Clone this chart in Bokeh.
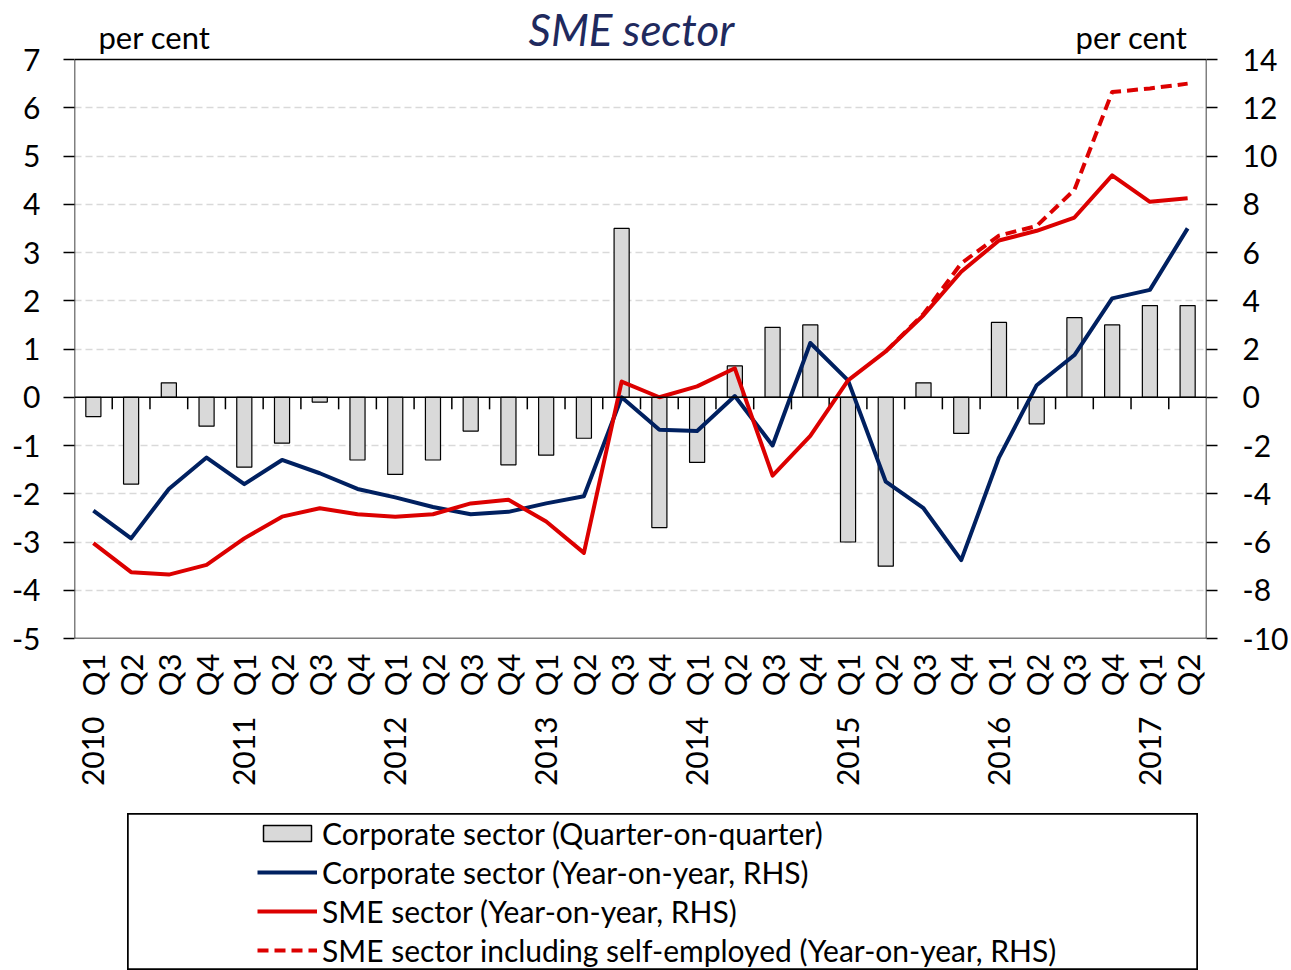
import math
from bokeh.plotting import figure
from bokeh.models import (Range1d, LinearAxis, FixedTicker, Span, Label, Legend,
                          LegendItem, Spacer, BoxAnnotation)
from bokeh.layouts import column, row
from bokeh.embed import file_html
from bokeh.resources import INLINE

# ---------------- data ----------------
periods = ["2010 Q1", "2010 Q2", "2010 Q3", "2010 Q4",
           "2011 Q1", "2011 Q2", "2011 Q3", "2011 Q4",
           "2012 Q1", "2012 Q2", "2012 Q3", "2012 Q4",
           "2013 Q1", "2013 Q2", "2013 Q3", "2013 Q4",
           "2014 Q1", "2014 Q2", "2014 Q3", "2014 Q4",
           "2015 Q1", "2015 Q2", "2015 Q3", "2015 Q4",
           "2016 Q1", "2016 Q2", "2016 Q3", "2016 Q4",
           "2017 Q1", "2017 Q2"]

# Corporate sector, quarter-on-quarter (left axis)
corp_qoq = [-0.4, -1.8, 0.3, -0.6, -1.45, -0.95, -0.1, -1.3, -1.6, -1.3,
            -0.7, -1.4, -1.2, -0.85, 3.5, -2.7, -1.35, 0.65, 1.45, 1.5,
            -3.0, -3.5, 0.3, -0.75, 1.55, -0.55, 1.65, 1.5, 1.9, 1.9]

# Corporate sector, year-on-year (right axis)
corp_yoy = [-4.7, -5.85, -3.8, -2.5, -3.6, -2.6, -3.15, -3.8, -4.15, -4.55,
            -4.85, -4.75, -4.4, -4.1, 0.0, -1.35, -1.4, 0.05, -2.0, 2.25,
            0.7, -3.5, -4.6, -6.75, -2.5, 0.5, 1.75, 4.1, 4.45, 7.0]

# SME sector, year-on-year (right axis)
sme_yoy = [-6.05, -7.25, -7.35, -6.95, -5.85, -4.95, -4.6, -4.85, -4.95, -4.85,
           -4.4, -4.25, -5.15, -6.45, 0.65, 0.0, 0.45, 1.2, -3.25, -1.6,
           0.7, 1.9, 3.4, 5.2, 6.5, 6.9, 7.45, 9.2, 8.1, 8.25]

# SME sector including self-employed, year-on-year (right axis)
nan = float("nan")
sme_self_yoy = [nan, nan, nan, nan, nan, nan, nan, nan, nan, nan,
                nan, nan, nan, nan, nan, nan, nan, nan, nan, nan,
                nan, 1.9, 3.45, 5.55, 6.7, 7.1, 8.6, 12.65, 12.8, 13.0]

left_ticks = [-5, -4, -3, -2, -1, 0, 1, 2, 3, 4, 5, 6, 7]
right_ticks = [-10, -8, -6, -4, -2, 0, 2, 4, 6, 8, 10, 12, 14]

# ---------------- styling ----------------
FONT = "Lato"
NAVY = "#002060"
RED = "#dc0000"
BAR = "#d9d9d9"
TITLE_C = "#1f2a5e"
LW = 4

idx = list(range(len(periods)))
quarter_labels = {i: s.split(" ")[1] for i, s in enumerate(periods)}
year_idx = [i for i, s in enumerate(periods) if s.endswith("Q1")]
year_labels = {i: periods[i].split(" ")[0] for i in year_idx}
bounds = [i + 0.5 for i in idx[:-1]]

W = 1291
H = 813
TOP_PX = 59          # space above the plot box for title texts
BOX_PX = 579         # plot box height in pixels
BOTTOM_PX = H - TOP_PX - BOX_PX

l_lo, l_hi = left_ticks[0], left_ticks[-1]
r_lo, r_hi = right_ticks[0], right_ticks[-1]
px_per_unit = BOX_PX / (l_hi - l_lo)
extra = TOP_PX / px_per_unit                     # left-axis units above the box
r_extra = extra * (r_hi - r_lo) / (l_hi - l_lo)  # same on the right axis

xr = Range1d(-0.5, len(periods) - 0.5)

p = figure(width=W, height=H, x_range=xr,
           y_range=Range1d(l_lo, l_hi + extra),
           toolbar_location=None, output_backend="svg", title=None,
           x_axis_location=None, y_axis_location="left",
           min_border_left=74, min_border_right=85,
           min_border_top=0, min_border_bottom=BOTTOM_PX)
p.extra_y_ranges = {"rhs": Range1d(r_lo, r_hi + r_extra)}
p.outline_line_color = None
p.background_fill_color = "white"
p.border_fill_color = "white"

p.xgrid.visible = False
p.ygrid.ticker = FixedTicker(ticks=[t for t in left_ticks if t not in (0, l_hi)])
p.ygrid.grid_line_color = "#d9d9d9"
p.ygrid.grid_line_dash = "7 4"
p.ygrid.grid_line_width = 1.3

def style_y(ax, ticks, standoff):
    ax.ticker = FixedTicker(ticks=ticks)
    ax.major_label_overrides = {t: str(t) for t in ticks}
    ax.major_label_text_font = FONT
    ax.major_label_text_font_size = "30px"
    ax.major_label_text_color = "black"
    ax.major_tick_out = 11
    ax.major_tick_in = 0
    ax.major_tick_line_color = "black"
    ax.major_tick_line_width = 1.5
    ax.minor_tick_line_color = None
    ax.axis_line_color = None
    ax.major_label_standoff = standoff

style_y(p.yaxis[0], left_ticks, 23)
ry = LinearAxis(y_range_name="rhs")
style_y(ry, right_ticks, 25)
p.add_layout(ry, "right")

def style_x(ax, standoff, size):
    ax.major_label_text_font = FONT
    ax.major_label_text_font_size = size
    ax.major_label_text_color = "black"
    ax.major_label_orientation = math.pi / 2
    ax.major_tick_line_color = None
    ax.minor_tick_line_color = None
    ax.axis_line_color = None
    ax.major_label_standoff = standoff

qa = LinearAxis(ticker=FixedTicker(ticks=idx), major_label_overrides=quarter_labels)
style_x(qa, 9, "31px")
p.add_layout(qa, "below")

ya = LinearAxis(ticker=FixedTicker(ticks=year_idx), major_label_overrides=year_labels)
style_x(ya, 11, "30px")
p.add_layout(ya, "below")

# bars
p.vbar(x=idx, top=corp_qoq, width=0.4, fill_color=BAR, line_color="black", line_width=1.2)

# horizontal axis line at zero with category-boundary ticks
p.add_layout(Span(location=0, dimension="width", line_color="black", line_width=1.5))
p.segment(x0=bounds, y0=[0] * len(bounds), x1=bounds, y1=[-0.25] * len(bounds),
          line_color="black", line_width=1.5)

# lines (right axis)
p.line(idx, corp_yoy, y_range_name="rhs", line_color=NAVY, line_width=LW, line_join="round")
p.line(idx, sme_yoy, y_range_name="rhs", line_color=RED, line_width=LW, line_join="round")
p.line(idx, sme_self_yoy, y_range_name="rhs", line_color=RED, line_width=LW,
       line_dash="11 6", line_join="round")

# plot box
p.add_layout(BoxAnnotation(left=xr.start, right=xr.end, bottom=l_lo, top=l_hi,
                           fill_alpha=0, fill_color=None,
                           line_color="black", line_width=1.5, line_alpha=1))

# texts above the box
p.add_layout(Label(x=0.136, y=l_hi + 23 / px_per_unit, text="per cent", text_font=FONT,
                   text_font_size="31px", text_baseline="alphabetic", text_color="black"))
p.add_layout(Label(x=29.0, y=l_hi + 23 / px_per_unit, text="per cent", text_font=FONT,
                   text_align="right", text_font_size="31px", text_baseline="alphabetic",
                   text_color="black"))
p.add_layout(Label(x=14.26, y=l_hi + 31 / px_per_unit, text="SME sector", text_font=FONT,
                   text_align="center", text_font_size="44px", text_font_style="italic",
                   text_baseline="alphabetic", text_color=TITLE_C))

# ---------------- legend panel ----------------
lf = figure(width=1071, height=157, x_range=Range1d(-0.5, len(periods) - 0.5),
            y_range=Range1d(-10, 14), title=None,
            toolbar_location=None, output_backend="svg",
            x_axis_location=None, y_axis_location=None, min_border=0)
lf.grid.visible = False
lf.outline_line_color = "black"
lf.outline_line_width = 2.5
r_bar = lf.vbar(x=idx, top=corp_qoq, width=0.4, fill_color=BAR, line_color="black",
                line_width=1.5, visible=False)
r_corp = lf.line(idx, corp_yoy, line_color=NAVY, line_width=LW, visible=False)
r_sme = lf.line(idx, sme_yoy, line_color=RED, line_width=LW, visible=False)
r_self = lf.line(idx, sme_self_yoy, line_color=RED, line_width=LW, line_dash="11 6",
                 visible=False)

legend = Legend(items=[
    LegendItem(label="Corporate sector (Quarter-on-quarter)", renderers=[r_bar]),
    LegendItem(label="Corporate sector (Year-on-year, RHS)", renderers=[r_corp]),
    LegendItem(label="SME sector (Year-on-year, RHS)", renderers=[r_sme]),
    LegendItem(label="SME sector including self-employed (Year-on-year, RHS)", renderers=[r_self]),
], location=(130, 2), glyph_width=60, glyph_height=20, label_standoff=5,
   label_text_font=FONT, label_text_font_size="30px", label_text_color="black",
   spacing=3, padding=0, margin=0, click_policy="none",
   border_line_color=None, background_fill_alpha=0,
   inactive_fill_alpha=0)
lf.add_layout(legend)

layout = column(p, row(Spacer(width=127, height=157), lf))

open("out.html", "w").write(file_html(layout, INLINE))
